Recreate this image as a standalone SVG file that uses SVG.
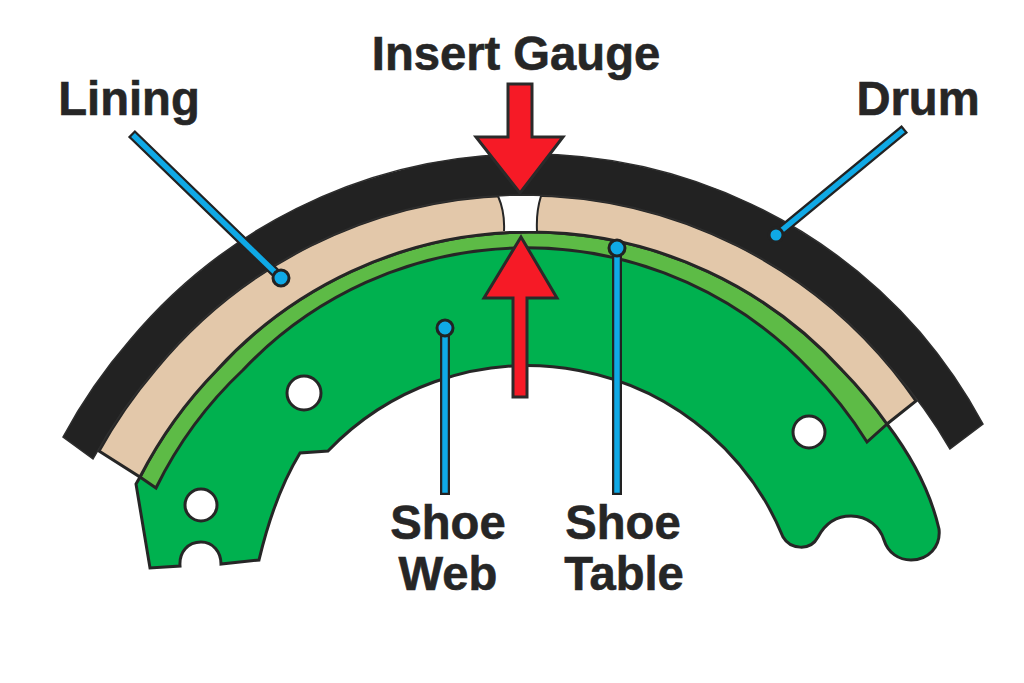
<svg xmlns="http://www.w3.org/2000/svg" width="1024" height="683" viewBox="0 0 1024 683">
<style>
.o{stroke:#262626;stroke-width:3;stroke-linejoin:miter}
.t{font-family:"Liberation Sans",Arial,sans-serif;font-weight:700;font-size:47.2px;fill:#262626;stroke:#262626;stroke-width:.6;text-anchor:middle}
.la{stroke:#222222;stroke-width:10;stroke-linecap:square;fill:none}
.lb{stroke:#0fa9e6;stroke-width:5.500;stroke-linecap:square;fill:none}
.d{fill:#0fa9e6;stroke:#222222;stroke-width:3}
.r{fill:#f61a26;stroke:#2a2a2a;stroke-width:3}
</style>
<rect width="1024" height="683" fill="#ffffff"/>
<g id="shoe-web">
<path class="o" fill="#00b14f" fill-rule="evenodd" d="M136 484L150 568L180 566C179 552 188 542 201 542C213 542 221 552 221 564L259 560C268 522 280 486 300 453L328 451A276 276 0 0 1 783 537C790 549 810 552 818 537C826 522 838 516 851 516C868 516 880 527 884 540C888 553 899 560 911 560C928 560 941 547 939 529C930 490 912 457 887 424A440 440 0 0 0 842 370A423 423 0 0 0 217 370A440 440 0 0 0 140 477Z M321 393A17 17 0 1 0 287 393A17 17 0 1 0 321 393Z M217 505A16 16 0 1 0 185 505A16 16 0 1 0 217 505Z M825 432A16 16 0 1 0 793 432A16 16 0 1 0 825 432Z"/>
</g>
<g id="shoe-table">
<path class="o" fill="#5dbb46" d="M140 477A440 440 0 0 1 217 370A423 423 0 0 1 842 370A440 440 0 0 1 887 424L867 442A410 410 0 0 0 810 370A390 390 0 0 0 243 370A410 410 0 0 0 156 488Z"/>
</g>
<g id="lining">
<path class="o" fill="#e3c8aa" d="M99 451A490 490 0 0 1 155 370A476.500 476.500 0 0 1 893 370A490 490 0 0 1 916 401L887 424A440 440 0 0 0 842 370A423 423 0 0 0 217 370A440 440 0 0 0 140 477Z"/>
</g>
<g id="insert-gap">
<path fill="#ffffff" stroke="none" d="M498 196Q505 212 504 231L537 231Q536 212 541 196Z"/>
<path fill="none" stroke="#262626" stroke-width="2" d="M498 196Q505 212 504 231M541 196Q536 212 537 231"/>
</g>
<g id="drum">
<path fill="#222222" stroke="#2e2e2e" stroke-width="1.500" d="M63 437A530 530 0 0 1 130 340A519.600 519.600 0 0 1 920 332A530 530 0 0 1 983 424L950 449A490 490 0 0 0 893 370A476.500 476.500 0 0 0 155 370A490 490 0 0 0 93 459Z"/>
</g>
<g id="connectors">
<line class="la" x1="135" y1="137" x2="281" y2="278"/><line class="lb" x1="135" y1="137" x2="281" y2="278"/>
<circle class="d" cx="281" cy="278" r="8"/>
<line class="la" x1="901" y1="132" x2="776" y2="235"/><line class="lb" x1="901" y1="132" x2="776" y2="235"/>
<circle class="d" cx="776" cy="235" r="7"/>
<line class="la" x1="445" y1="328" x2="445" y2="490"/><line class="lb" x1="445" y1="328" x2="445" y2="490"/>
<circle class="d" cx="445" cy="328" r="8"/>
<line class="la" x1="617" y1="248" x2="617" y2="490"/><line class="lb" x1="617" y1="248" x2="617" y2="490"/>
<circle class="d" cx="617" cy="248" r="8"/>
<path class="r" id="arrow-down" d="M508 84H532V137H563L520 193L476 137H508Z"/>
<path class="r" id="arrow-up" d="M521 237L557 298H527V397H513V298H484Z"/>
</g>
<g id="labels">
<text class="t" x="516" y="70">Insert Gauge</text>
<text class="t" x="129" y="115">Lining</text>
<text class="t" x="918" y="115">Drum</text>
<text class="t" x="448" y="539">Shoe</text>
<text class="t" x="448" y="590">Web</text>
<text class="t" x="623" y="539">Shoe</text>
<text class="t" x="624" y="590">Table</text>
</g>
</svg>
